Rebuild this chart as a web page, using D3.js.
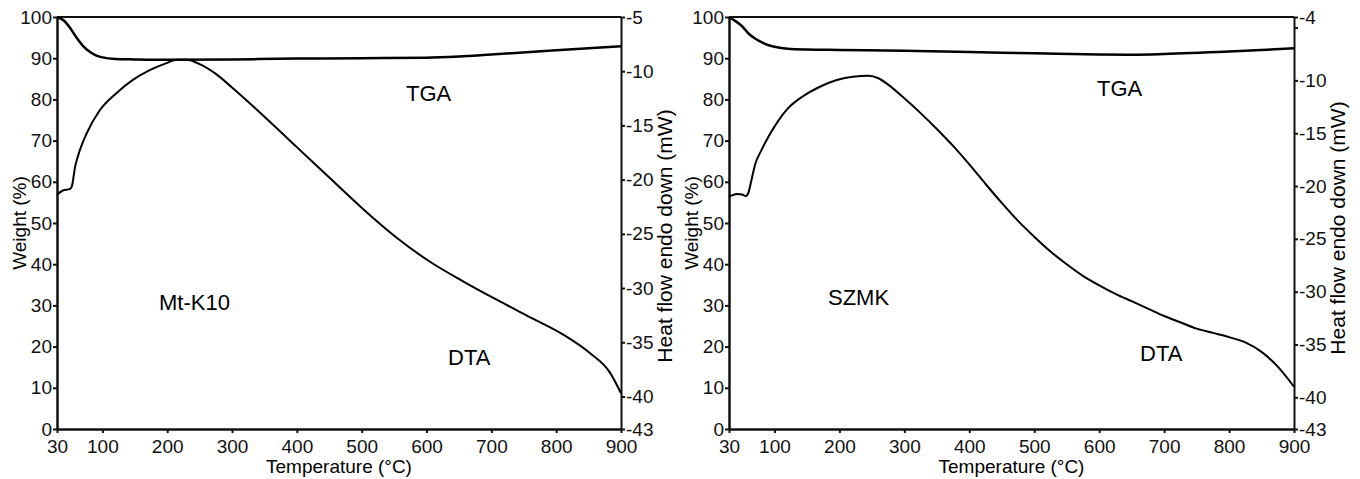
<!DOCTYPE html>
<html>
<head>
<meta charset="utf-8">
<script src="https://cdn.jsdelivr.net/npm/d3@7"></script>
<style>
  body { margin: 0; background: #fff; }
  svg { display: block; font-family: "Liberation Sans", Arial, sans-serif; }
  .axis path, .axis line { stroke: #111; }
  .axis text { font-size: 19px; fill: #111; font-family: "Liberation Sans", Arial, sans-serif; }
</style>
</head>
<body>
<svg width="1360" height="479"></svg>
<script>
// tick values
const tempTicks = [30, 100, 200, 300, 400, 500, 600, 700, 800, 900];
const weightTicks = [0, 10, 20, 30, 40, 50, 60, 70, 80, 90, 100];
const heatTicksA = [-5, -10, -15, -20, -25, -30, -35, -40, -43];
const heatTicksB = [-4, -5, -10, -15, -20, -25, -30, -35, -40, -43];

// Mt-K10 : [temperature, weight %]
const mtTga = [[30,100],[40,99.2],[50,97.4],[60,95.0],[70,93.0],[80,91.6],[90,90.7],[100,90.2],[120,89.8],
  [150,89.7],[200,89.6],[300,89.7],[400,89.9],[500,90.0],[600,90.1],[650,90.4],[700,90.9],[800,91.9],[900,92.9]];
// Mt-K10 : [temperature, heat flow mW]
const mtDta = [[30,-21.4],[39,-21.0],[50,-20.85],[53,-20.6],[58,-18.8],[62,-17.9],[76,-15.7],[96,-13.6],
  [122,-12.0],[147,-10.8],[173,-9.9],[199,-9.25],[215,-8.95],[230,-8.95],[250,-9.35],[275,-10.25],[300,-11.5],
  [350,-14.2],[400,-17.0],[450,-19.8],[502,-22.7],[555,-25.4],[606,-27.6],[657,-29.4],[709,-31.1],[760,-32.7],
  [811,-34.3],[852,-36.0],[883,-37.8],[900,-39.7]];

// SZMK
const szTga = [[30,100],[40,99.0],[50,97.8],[60,96.0],[70,94.8],[80,93.9],[90,93.2],[100,92.8],[120,92.3],
  [150,92.1],[200,92.0],[300,91.8],[400,91.5],[500,91.2],[600,90.9],[650,90.85],[700,91.0],[800,91.6],[900,92.4]];
const szDta = [[30,-21.0],[36,-20.85],[42,-20.75],[50,-20.8],[56,-20.95],[60,-20.6],[64,-19.6],[70,-18.0],
  [80,-16.6],[92,-15.2],[105,-13.9],[120,-12.7],[144,-11.5],[170,-10.6],[196,-9.97],[221,-9.65],[245,-9.56],
  [260,-9.8],[275,-10.4],[300,-11.7],[325,-13.1],[350,-14.6],[375,-16.2],[400,-17.95],[425,-19.8],[450,-21.6],
  [475,-23.3],[500,-24.8],[525,-26.2],[550,-27.4],[575,-28.5],[600,-29.4],[625,-30.2],[650,-30.9],[675,-31.6],
  [700,-32.3],[725,-32.9],[750,-33.5],[775,-33.9],[800,-34.3],[825,-34.8],[850,-35.7],[875,-37.1],[900,-39.0]];

const svg = d3.select("svg");
const plotTop = 17, plotBottom = 429;

const drawPanel = (p) => {
  const x = d3.scaleLinear().domain([30, 900]).range([p.x0, p.x1]);
  const yW = d3.scaleLinear().domain([0, 100]).range([plotBottom, plotTop]);
  const yH = d3.scaleLinear().domain(p.heatDomain).range([plotBottom, plotTop]);
  const g = svg.append("g");

  g.append("g").attr("class", "axis")
    .attr("transform", `translate(0,${plotBottom})`)
    .call(d3.axisBottom(x).tickValues(tempTicks).tickSize(4).tickSizeOuter(0).tickPadding(7))
    .call(s => s.select(".domain").attr("stroke-width", 2.5));

  g.append("g").attr("class", "axis")
    .attr("transform", `translate(${p.x0},0)`)
    .call(d3.axisLeft(yW).tickValues(weightTicks).tickSize(4).tickSizeOuter(0).tickPadding(1))
    .call(s => s.select(".domain").attr("stroke-width", 2.5));

  g.append("g").attr("class", "axis")
    .attr("transform", `translate(${p.x1},0)`)
    .call(d3.axisRight(yH).tickValues(p.heatTicks).tickSize(4).tickSizeOuter(0).tickPadding(1)
      .tickFormat(d => p.hideHeat.includes(d) ? "" : d))
    .call(s => s.select(".domain").attr("stroke-width", 2));

  // top frame line
  g.append("line")
    .attr("x1", p.x0).attr("x2", p.x1).attr("y1", plotTop).attr("y2", plotTop)
    .attr("stroke", "#111").attr("stroke-width", 2);

  g.selectAll(".axis .tick line").attr("stroke-width", 2);

  const lineW = d3.line().x(d => x(d[0])).y(d => yW(d[1])).curve(d3.curveMonotoneX);
  const lineH = d3.line().x(d => x(d[0])).y(d => yH(d[1])).curve(d3.curveMonotoneX);

  g.append("path").datum(p.tga).attr("d", lineW)
    .attr("fill", "none").attr("stroke", "#000").attr("stroke-width", 2.5);
  g.append("path").datum(p.dta).attr("d", lineH)
    .attr("fill", "none").attr("stroke", "#000").attr("stroke-width", 2);

  const mid = (p.x0 + p.x1) / 2;
  g.append("text").attr("x", mid).attr("y", 473).attr("text-anchor", "middle")
    .attr("font-size", 19).text("Temperature (°C)");
  g.append("text").attr("transform", `translate(${p.x0 - 38},${(plotTop + plotBottom) / 2}) rotate(-90)`)
    .attr("text-anchor", "middle").attr("dy", "0.35em").attr("font-size", 19).text("Weight (%)");
  g.append("text").attr("transform", `translate(${p.x1 + 44},${p.heatTitleY}) rotate(-90)`)
    .attr("text-anchor", "middle").attr("dy", "0.35em").attr("font-size", 21).text("Heat flow endo down (mW)");

  p.labels.forEach(l => {
    g.append("text").attr("x", l[1]).attr("y", l[2]).attr("font-size", 22).text(l[0]);
  });
};

drawPanel({
  x0: 57, x1: 621, heatDomain: [-43, -5], heatTicks: heatTicksA, hideHeat: [], heatTitleY: 236,
  tga: mtTga, dta: mtDta,
  labels: [["TGA", 406, 101], ["Mt-K10", 159, 310], ["DTA", 448, 365]]
});
drawPanel({
  x0: 729, x1: 1294, heatDomain: [-43, -4], heatTicks: heatTicksB, hideHeat: [-5], heatTitleY: 228,
  tga: szTga, dta: szDta,
  labels: [["TGA", 1097, 96], ["SZMK", 828, 305], ["DTA", 1140, 361]]
});
</script>
</body>
</html>
